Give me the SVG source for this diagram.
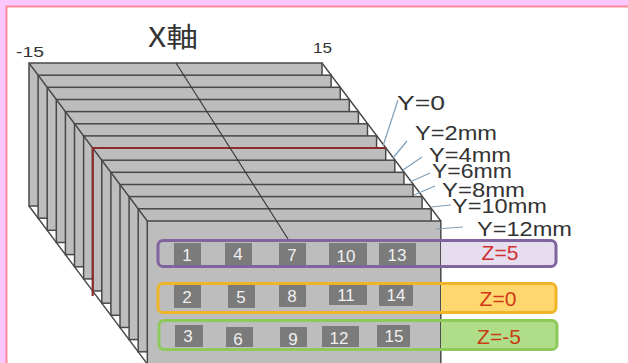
<svg xmlns="http://www.w3.org/2000/svg" width="628" height="363" viewBox="0 0 628 363">
<style>
.p{fill:#bdbdbd;stroke:#484848;stroke-width:1.5}
.d{fill:none;stroke:#484848;stroke-width:1.4}
.b{fill:none;stroke:#7f9fb8;stroke-width:1.2}
.y{font-family:"Liberation Sans",Arial,sans-serif;font-size:20px;fill:#333}
.a{font-family:"Liberation Sans",Arial,sans-serif;font-size:15px;fill:#333}
.c{fill:#7b7b7b}
.n{font-family:"Liberation Sans",Arial,sans-serif;font-size:17px;fill:#f0f0f0;text-anchor:middle}
.z{font-family:"Liberation Sans",Arial,sans-serif;font-size:21px;text-anchor:middle}
.bar{stroke-width:3}
</style>
<rect width="628" height="363" fill="#fdc8fd"/>
<rect x="6.500" y="6.500" width="640" height="380" fill="#fff" stroke="#ff8a9a" stroke-width="2"/>
<g id="plates">
<rect class="p" x="29" y="63" width="293" height="143"/>
<rect class="p" x="38.100" y="75.200" width="293" height="143"/>
<rect class="p" x="47.200" y="87.300" width="293" height="143"/>
<rect class="p" x="56.300" y="99.500" width="293" height="143"/>
<rect class="p" x="65.400" y="111.600" width="293" height="143"/>
<rect class="p" x="74.500" y="123.800" width="293" height="143"/>
<rect class="p" x="83.600" y="135.900" width="293" height="143"/>
<rect class="p" x="92.700" y="148" width="293" height="143"/>
<rect class="p" x="101.800" y="160.200" width="293" height="143"/>
<rect class="p" x="110.900" y="172.300" width="293" height="143"/>
<rect class="p" x="120" y="184.500" width="293" height="143"/>
<rect class="p" x="129.100" y="196.600" width="293" height="143"/>
<rect class="p" x="138.200" y="208.800" width="293" height="143"/>
<rect class="p" x="147.300" y="221" width="293.500" height="146"/>
</g>
<g id="connectors">
<path class="d" d="M29 63L147.300 221M322 63L440.800 221M29 206L147.300 364"/>
<path d="M92.700 296V148H385.700" fill="none" stroke="#8e2a2a" stroke-width="2.200"/>
<path d="M176 63L288 239" fill="none" stroke="#333" stroke-width="1.100"/>
<path class="b" d="M383 146L398 100M393 158L407 141M403 170L422 157M410 182L430 173M414 195L435 186M431 207L451 205M436 229L463 227"/>
</g>
<g id="z5">
<path d="M441 241H552a4 4 0 0 1 4 4V262a4 4 0 0 1-4 4H441Z" fill="#e6deee"/>
<rect class="bar" x="158" y="240.500" width="398" height="26" rx="5" fill="none" stroke="#7f64a0"/>
<text class="z" x="500" y="260" fill="#d0302f">Z=5</text>
</g>
<g id="z0">
<path d="M441 284H552a4 4 0 0 1 4 4V308a4 4 0 0 1-4 4H441Z" fill="#ffd76f"/>
<rect class="bar" x="158" y="283.500" width="398" height="29" rx="5" fill="none" stroke="#f0b429"/>
<text class="z" x="498" y="306" fill="#d03a1a">Z=0</text>
</g>
<g id="zm5">
<path d="M441 321H553a4 4 0 0 1 4 4V345a4 4 0 0 1-4 4H441Z" fill="#b0dd8a"/>
<rect class="bar" x="159" y="320.500" width="398" height="29" rx="5" fill="none" stroke="#8ec95c"/>
<text class="z" x="499" y="344" fill="#c83c14">Z=-5</text>
</g>
<g id="n1"><rect class="c" x="174" y="243" width="27" height="22"/><text class="n" x="187" y="261">1</text></g>
<g id="n4"><rect class="c" x="225" y="243" width="27" height="22"/><text class="n" x="238" y="260">4</text></g>
<g id="n7"><rect class="c" x="279" y="243" width="27" height="22"/><text class="n" x="292" y="261">7</text></g>
<g id="n10"><rect class="c" x="329" y="243" width="38" height="22"/><text class="n" x="346" y="262">10</text></g>
<g id="n13"><rect class="c" x="379" y="243" width="37" height="22"/><text class="n" x="397" y="261">13</text></g>
<g id="n2"><rect class="c" x="174" y="285" width="27" height="23"/><text class="n" x="187" y="303">2</text></g>
<g id="n5"><rect class="c" x="228" y="285" width="27" height="23"/><text class="n" x="241" y="303">5</text></g>
<g id="n8"><rect class="c" x="279" y="285" width="27" height="22"/><text class="n" x="292" y="302">8</text></g>
<g id="n11"><rect class="c" x="329" y="285" width="38" height="20"/><text class="n" x="346" y="301">11</text></g>
<g id="n14"><rect class="c" x="379" y="285" width="34" height="21"/><text class="n" x="396" y="301">14</text></g>
<g id="n3"><rect class="c" x="175" y="325" width="28" height="22"/><text class="n" x="188" y="342">3</text></g>
<g id="n6"><rect class="c" x="226" y="327" width="27" height="20"/><text class="n" x="238" y="345">6</text></g>
<g id="n9"><rect class="c" x="280" y="327" width="27" height="20"/><text class="n" x="293" y="345">9</text></g>
<g id="n12"><rect class="c" x="322" y="326" width="37" height="21"/><text class="n" x="339" y="344">12</text></g>
<g id="n15"><rect class="c" x="377" y="325" width="33" height="22"/><text class="n" x="394" y="342">15</text></g>
<g id="labels">
<text x="148" y="47" font-family="'Noto Sans CJK JP','Noto Sans CJK SC',sans-serif" font-size="27" fill="#333" textLength="50" lengthAdjust="spacingAndGlyphs">X軸</text>
<text class="a" x="16" y="57" textLength="28" lengthAdjust="spacingAndGlyphs">-15</text>
<text class="a" x="313" y="53" textLength="19" lengthAdjust="spacingAndGlyphs">15</text>
<text class="y" x="397" y="110" textLength="48" lengthAdjust="spacingAndGlyphs">Y=0</text>
<text class="y" x="415" y="140" textLength="82" lengthAdjust="spacingAndGlyphs">Y=2mm</text>
<text class="y" x="429" y="162" textLength="82" lengthAdjust="spacingAndGlyphs">Y=4mm</text>
<text class="y" x="432" y="178" textLength="80" lengthAdjust="spacingAndGlyphs">Y=6mm</text>
<text class="y" x="442" y="197" textLength="83" lengthAdjust="spacingAndGlyphs">Y=8mm</text>
<text class="y" x="452" y="213" textLength="95" lengthAdjust="spacingAndGlyphs">Y=10mm</text>
<text class="y" x="477" y="236" textLength="95" lengthAdjust="spacingAndGlyphs">Y=12mm</text>
</g>
</svg>
